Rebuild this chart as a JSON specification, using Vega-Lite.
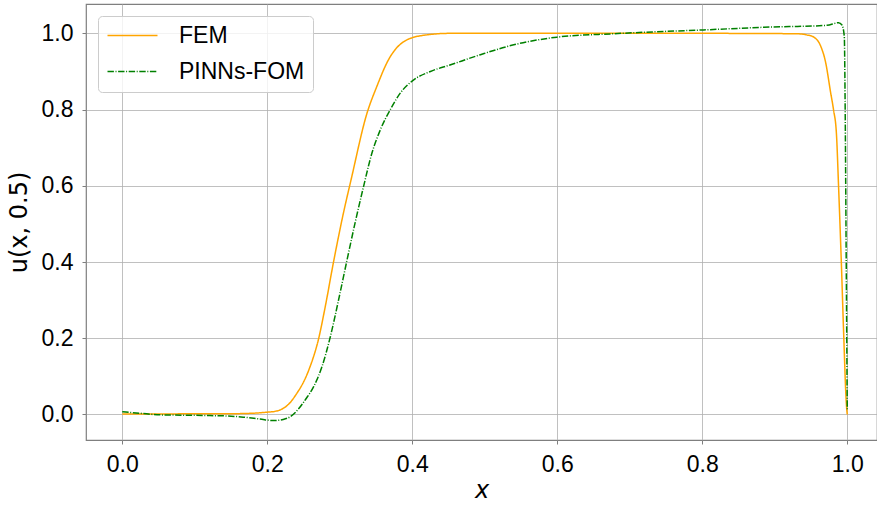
{
  "$schema": "https://vega.github.io/schema/vega-lite/v6.json",
  "width": 791,
  "height": 436,
  "autosize": {"type": "none"},
  "padding": {"left": 86, "top": 4, "right": 0, "bottom": 65},
  "background": "white",
  "config": {
    "font": "Liberation Sans",
    "view": {"stroke": "#7f7f7f", "strokeWidth": 1.2},
    "axis": {
      "grid": true,
      "gridColor": "#b0b0b0",
      "gridWidth": 0.8,
      "domain": false,
      "tickColor": "#7f7f7f",
      "tickSize": 4,
      "labelFont": "Liberation Sans",
      "labelFontSize": 23,
      "labelColor": "black",
      "titleColor": "black",
      "titleFontWeight": "normal",
      "titleFontSize": 24
    }
  },
  "data": {
    "values": [
      {"series": "FEM", "x": 0.0, "u": 0.001},
      {"series": "FEM", "x": 0.05, "u": 0.001},
      {"series": "FEM", "x": 0.1, "u": 0.002},
      {"series": "FEM", "x": 0.15, "u": 0.002},
      {"series": "FEM", "x": 0.177, "u": 0.003},
      {"series": "FEM", "x": 0.2, "u": 0.006},
      {"series": "FEM", "x": 0.21, "u": 0.008},
      {"series": "FEM", "x": 0.218, "u": 0.012},
      {"series": "FEM", "x": 0.23, "u": 0.028},
      {"series": "FEM", "x": 0.241, "u": 0.056},
      {"series": "FEM", "x": 0.25, "u": 0.085},
      {"series": "FEM", "x": 0.259, "u": 0.125},
      {"series": "FEM", "x": 0.271, "u": 0.2},
      {"series": "FEM", "x": 0.28, "u": 0.283},
      {"series": "FEM", "x": 0.2915, "u": 0.401},
      {"series": "FEM", "x": 0.305, "u": 0.528},
      {"series": "FEM", "x": 0.3155, "u": 0.615},
      {"series": "FEM", "x": 0.3375, "u": 0.79},
      {"series": "FEM", "x": 0.351, "u": 0.86},
      {"series": "FEM", "x": 0.367, "u": 0.93},
      {"series": "FEM", "x": 0.3927, "u": 0.983},
      {"series": "FEM", "x": 0.42, "u": 0.996},
      {"series": "FEM", "x": 0.452, "u": 1.0},
      {"series": "FEM", "x": 0.6, "u": 1.0},
      {"series": "FEM", "x": 0.8, "u": 1.0},
      {"series": "FEM", "x": 0.93, "u": 0.999},
      {"series": "FEM", "x": 0.944, "u": 0.996},
      {"series": "FEM", "x": 0.954, "u": 0.99},
      {"series": "FEM", "x": 0.963, "u": 0.968},
      {"series": "FEM", "x": 0.97, "u": 0.925},
      {"series": "FEM", "x": 0.977, "u": 0.845},
      {"series": "FEM", "x": 0.981, "u": 0.8},
      {"series": "FEM", "x": 0.985, "u": 0.738},
      {"series": "FEM", "x": 0.988, "u": 0.598},
      {"series": "FEM", "x": 0.992, "u": 0.388},
      {"series": "FEM", "x": 0.995, "u": 0.213},
      {"series": "FEM", "x": 0.999, "u": 0.02},
      {"series": "FEM", "x": 1.0, "u": 0.0},
      {"series": "PINNs-FOM", "x": 0.0, "u": 0.007},
      {"series": "PINNs-FOM", "x": 0.025, "u": 0.003},
      {"series": "PINNs-FOM", "x": 0.052, "u": -0.001},
      {"series": "PINNs-FOM", "x": 0.09, "u": -0.002},
      {"series": "PINNs-FOM", "x": 0.121, "u": -0.003},
      {"series": "PINNs-FOM", "x": 0.145, "u": -0.004},
      {"series": "PINNs-FOM", "x": 0.167, "u": -0.007},
      {"series": "PINNs-FOM", "x": 0.19, "u": -0.012},
      {"series": "PINNs-FOM", "x": 0.209, "u": -0.016},
      {"series": "PINNs-FOM", "x": 0.222, "u": -0.013},
      {"series": "PINNs-FOM", "x": 0.2317, "u": -0.006},
      {"series": "PINNs-FOM", "x": 0.242, "u": 0.012},
      {"series": "PINNs-FOM", "x": 0.253, "u": 0.04},
      {"series": "PINNs-FOM", "x": 0.264, "u": 0.073},
      {"series": "PINNs-FOM", "x": 0.2754, "u": 0.125},
      {"series": "PINNs-FOM", "x": 0.287, "u": 0.204},
      {"series": "PINNs-FOM", "x": 0.2983, "u": 0.3},
      {"series": "PINNs-FOM", "x": 0.31, "u": 0.405},
      {"series": "PINNs-FOM", "x": 0.3214, "u": 0.505},
      {"series": "PINNs-FOM", "x": 0.3328, "u": 0.598},
      {"series": "PINNs-FOM", "x": 0.3444, "u": 0.686},
      {"series": "PINNs-FOM", "x": 0.356, "u": 0.747},
      {"series": "PINNs-FOM", "x": 0.3697, "u": 0.8},
      {"series": "PINNs-FOM", "x": 0.3834, "u": 0.843},
      {"series": "PINNs-FOM", "x": 0.402, "u": 0.878},
      {"series": "PINNs-FOM", "x": 0.425, "u": 0.9},
      {"series": "PINNs-FOM", "x": 0.452, "u": 0.917},
      {"series": "PINNs-FOM", "x": 0.494, "u": 0.944},
      {"series": "PINNs-FOM", "x": 0.54, "u": 0.97},
      {"series": "PINNs-FOM", "x": 0.5995, "u": 0.99},
      {"series": "PINNs-FOM", "x": 0.678, "u": 0.999},
      {"series": "PINNs-FOM", "x": 0.747, "u": 1.005},
      {"series": "PINNs-FOM", "x": 0.802, "u": 1.009},
      {"series": "PINNs-FOM", "x": 0.885, "u": 1.016},
      {"series": "PINNs-FOM", "x": 0.972, "u": 1.021},
      {"series": "PINNs-FOM", "x": 0.988, "u": 1.028},
      {"series": "PINNs-FOM", "x": 0.9927, "u": 1.022},
      {"series": "PINNs-FOM", "x": 0.9959, "u": 0.992},
      {"series": "PINNs-FOM", "x": 0.997, "u": 0.825},
      {"series": "PINNs-FOM", "x": 0.9986, "u": 0.388},
      {"series": "PINNs-FOM", "x": 1.0, "u": 0.01}
    ]
  },
  "mark": {"type": "line", "strokeWidth": 1.5, "clip": true, "interpolate": "monotone"},
  "encoding": {
    "x": {
      "field": "x",
      "type": "quantitative",
      "scale": {"domain": [-0.05, 1.041], "nice": false, "zero": false},
      "axis": {
        "values": [0, 0.2, 0.4, 0.6, 0.8, 1.0],
        "format": ".1f",
        "labelPadding": 9,
        "title": "x",
        "titleFont": "DejaVu Sans",
        "titleFontStyle": "italic",
        "titlePadding": 2
      }
    },
    "y": {
      "field": "u",
      "type": "quantitative",
      "scale": {"domain": [-0.067, 1.077], "nice": false, "zero": false},
      "axis": {
        "values": [0, 0.2, 0.4, 0.6, 0.8, 1.0],
        "format": ".1f",
        "labelPadding": 9,
        "title": "u(x, 0.5)",
        "titleFont": "DejaVu Sans",
        "titlePadding": 10
      }
    },
    "color": {
      "field": "series",
      "type": "nominal",
      "scale": {"domain": ["FEM", "PINNs-FOM"], "range": ["#FFA500", "#008000"]},
      "legend": {
        "title": null,
        "orient": "none",
        "legendX": 12,
        "legendY": 12,
        "fillColor": "rgba(255,255,255,0.8)",
        "strokeColor": "#cccccc",
        "cornerRadius": 4,
        "padding": 8,
        "symbolType": "M-1,0H4",
        "symbolSize": 400,
        "symbolStrokeWidth": 1.5,
        "symbolFillColor": "transparent",
        "labelFontSize": 23,
        "labelFont": "Liberation Sans",
        "labelColor": "black",
        "labelOffset": 50,
        "labelLimit": 300,
        "rowPadding": 12
      }
    },
    "strokeDash": {
      "field": "series",
      "type": "nominal",
      "scale": {"domain": ["FEM", "PINNs-FOM"], "range": [[1, 0], [6.4, 1.6, 1, 1.6]]},
      "legend": null
    }
  }
}
